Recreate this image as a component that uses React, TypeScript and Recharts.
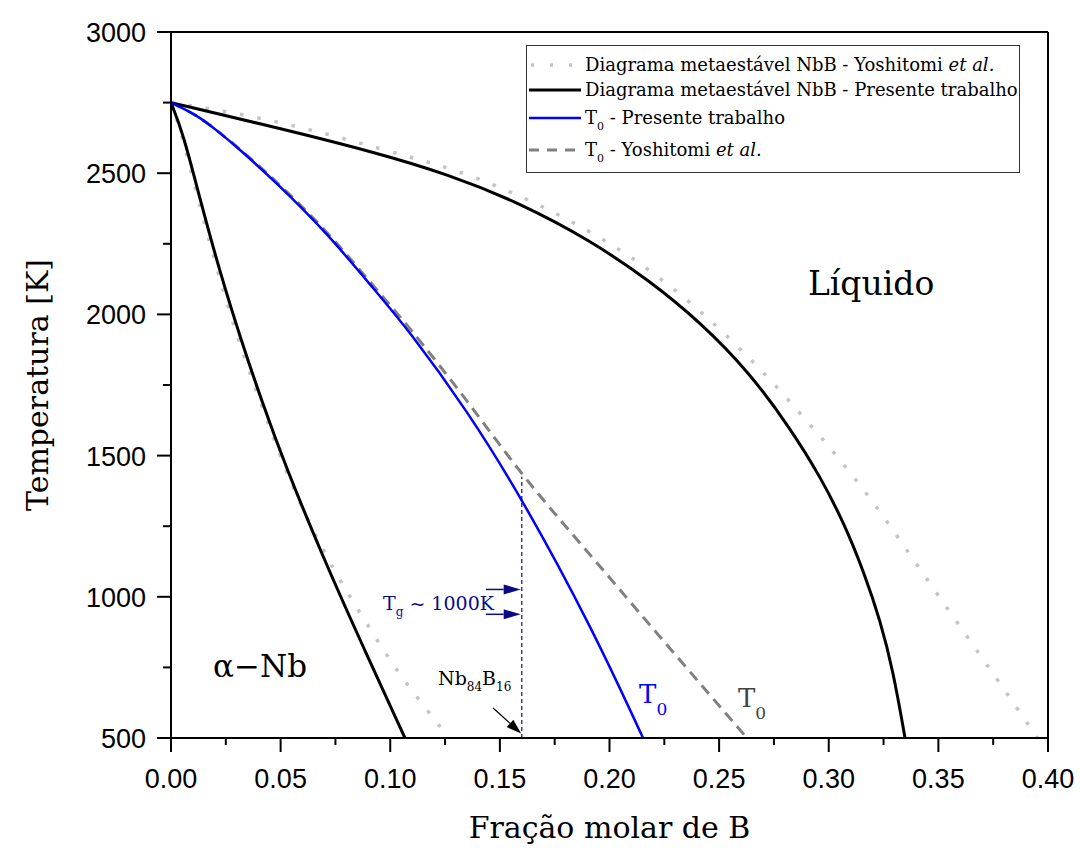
import {
  LineChart,
  Line,
  XAxis,
  YAxis,
  ReferenceLine,
  ReferenceDot,
  Legend,
} from "recharts";

// Diagrama metaestável NbB - Presente trabalho (solidus, lado Nb)
const solidusPresenteX = [0, 0.0055, 0.0132, 0.0223, 0.0315, 0.0415, 0.052, 0.0693, 0.0862, 0.1067];
const solidusPresenteT = [2750, 2642, 2409, 2150, 1920, 1690, 1467, 1141, 847, 500];

// Diagrama metaestável NbB - Yoshitomi et al. (solidus)
const solidusYoshitomiX = [0, 0.0046, 0.0119, 0.021, 0.0303, 0.0406, 0.0515, 0.0625, 0.0743, 0.0839, 0.094, 0.104, 0.1154, 0.1268];
const solidusYoshitomiT = [2750, 2649, 2419, 2157, 1916, 1693, 1460, 1265, 1095, 971, 847, 727, 613, 500];

// liquidus - Presente trabalho
const liquidusPresenteX = [0, 0.0452, 0.0908, 0.1273, 0.1592, 0.1911, 0.2185, 0.2413, 0.2641, 0.2823, 0.296, 0.3074, 0.3165, 0.3234, 0.3293, 0.3348];
const liquidusPresenteT = [2750, 2667, 2579, 2494, 2394, 2263, 2118, 1973, 1792, 1598, 1428, 1254, 1077, 918, 741, 500];

// liquidus - Yoshitomi et al.
const liquidusYoshitomiX = [0, 0.0301, 0.0588, 0.0848, 0.109, 0.1286, 0.1533, 0.1774, 0.2002, 0.2185, 0.2413, 0.2673, 0.2869, 0.3038, 0.3211, 0.3371, 0.353, 0.369, 0.3827, 0.3952];
const liquidusYoshitomiT = [2750, 2713, 2664, 2610, 2557, 2515, 2441, 2352, 2253, 2157, 2016, 1821, 1651, 1499, 1329, 1148, 971, 794, 642, 500];

// T0 - Presente trabalho
const t0PresenteX = [0, 0.0114, 0.021, 0.0301, 0.0483, 0.0712, 0.094, 0.1076, 0.135, 0.1605, 0.192, 0.2153];
const t0PresenteT = [2750, 2708, 2651, 2593, 2465, 2288, 2076, 1952, 1661, 1343, 890, 500];

// T0 - Yoshitomi et al.
const t0YoshitomiX = [0, 0.0114, 0.021, 0.0301, 0.0483, 0.0712, 0.094, 0.1076, 0.135, 0.1605, 0.19, 0.22, 0.2627];
const t0YoshitomiT = [2750, 2708, 2651, 2595, 2470, 2295, 2085, 1965, 1697, 1424, 1160, 885, 500];

const xTicks = [0, 0.025, 0.05, 0.075, 0.1, 0.125, 0.15, 0.175, 0.2, 0.225, 0.25, 0.275, 0.3, 0.325, 0.35, 0.375, 0.4];
const yTicks = [500, 750, 1000, 1250, 1500, 1750, 2000, 2250, 2500, 2750, 3000];

// composição Nb84B16 e Tg
const xNb84B16 = 0.16;
const tTopNb84B16 = 1425;
const tgArrowsT = [1026, 938];

const toPoints = (xs: number[], ts: number[]) => xs.map((x, i) => ({ x, T: ts[i] }));

const SANS = "'Liberation Sans', Arial, sans-serif";
const SERIF = "'DejaVu Serif', serif";
const NAVY = "#0b0b85";

const XTick = ({ x, y, payload }: any) => {
  const v = payload.value;
  const major = Math.abs(v * 20 - Math.round(v * 20)) < 1e-6;
  return (
    <g>
      <line x1={x} x2={x} y1={y} y2={y + (major ? 14 : 7)} stroke="#000" strokeWidth={2} />
      {major && (
        <text x={x} y={y + 50} textAnchor="middle" fontFamily={SANS} fontSize={27} fill="#000">
          {v.toFixed(2)}
        </text>
      )}
    </g>
  );
};

const YTick = ({ x, y, payload }: any) => {
  const v = payload.value;
  const major = v % 500 === 0;
  return (
    <g>
      <line x1={x - (major ? 14 : 8)} x2={x} y1={y} y2={y} stroke="#000" strokeWidth={2} />
      {major && (
        <text x={x - 25} y={y + 10} textAnchor="end" fontFamily={SANS} fontSize={27} fill="#000">
          {v}
        </text>
      )}
    </g>
  );
};

const Arrow = (props: any) => {
  const { x1, y1, x2, y2, stroke, strokeWidth, len = 17, hw = 5 } = props;
  const a = Math.atan2(y2 - y1, x2 - x1);
  const c = Math.cos(a);
  const s = Math.sin(a);
  const bx = x2 - len * c;
  const by = y2 - len * s;
  return (
    <g>
      <line x1={x1} y1={y1} x2={bx} y2={by} stroke={stroke} strokeWidth={strokeWidth} />
      <polygon
        points={`${x2},${y2} ${bx - hw * s},${by + hw * c} ${bx + hw * s},${by - hw * c}`}
        fill={stroke}
      />
    </g>
  );
};

const LegendBox = () => (
  <div style={{ width: 494, height: 128, border: "1px solid #333", boxSizing: "border-box", background: "#fff" }}>
    <svg width={492} height={126} style={{ display: "block" }}>
      <g fontFamily={SERIF} fontSize={18} fill="#000">
        <line x1={4} x2={54} y1={19} y2={19} stroke="#c4c4c4" strokeWidth={3.5} strokeDasharray="3 16" />
        <text x={58} y={25}>
          Diagrama metaestável NbB - Yoshitomi <tspan fontStyle="italic">et al.</tspan>
        </text>
        <line x1={2} x2={54} y1={44} y2={44} stroke="#000" strokeWidth={3} />
        <text x={58} y={50}>Diagrama metaestável NbB - Presente trabalho</text>
        <line x1={2} x2={54} y1={72} y2={72} stroke="#0000ff" strokeWidth={2.5} />
        <text x={58} y={78}>
          T<tspan dy={6} fontSize={11}>0</tspan>
          <tspan dy={-6}> - Presente trabalho</tspan>
        </text>
        <line x1={2} x2={54} y1={104} y2={104} stroke="#808080" strokeWidth={3} strokeDasharray="10 8" />
        <text x={58} y={110}>
          T<tspan dy={6} fontSize={11}>0</tspan>
          <tspan dy={-6}> - Yoshitomi </tspan>
          <tspan fontStyle="italic">et al.</tspan>
        </text>
      </g>
    </svg>
  </div>
);

const TextAt = (content: (cx: number, cy: number) => any) => (p: any) => content(p.cx, p.cy);

export default function App() {
  return (
    <div style={{ position: "absolute", left: 0, top: 0, background: "#fff" }}>
      <LineChart width={1080} height={850} margin={{ top: 32, right: 32, bottom: 0, left: 0 }}>
        <XAxis
          dataKey="x"
          type="number"
          domain={[0, 0.4]}
          ticks={xTicks}
          interval={0}
          allowDataOverflow
          height={112}
          tickSize={0}
          tickMargin={0}
          tickLine={false}
          tick={<XTick />}
          axisLine={{ stroke: "#000", strokeWidth: 2 }}
          label={{
            value: "Fração molar de B",
            position: "insideBottom",
            offset: 12,
            style: { fontFamily: SERIF, fontSize: 30, fill: "#000" },
          }}
        />
        <YAxis
          dataKey="T"
          type="number"
          domain={[500, 3000]}
          ticks={yTicks}
          interval={0}
          allowDataOverflow
          width={171}
          tickSize={0}
          tickMargin={0}
          tickLine={false}
          tick={<YTick />}
          axisLine={{ stroke: "#000", strokeWidth: 2 }}
          label={{
            content: ({ viewBox }: any) => (
              <text
                x={viewBox.x + 48}
                y={viewBox.y + viewBox.height / 2}
                transform={`rotate(-90 ${viewBox.x + 48} ${viewBox.y + viewBox.height / 2})`}
                textAnchor="middle"
                fontFamily={SERIF}
                fontSize={30}
                fill="#000"
              >
                Temperatura [K]
              </text>
            ),
          }}
        />
        <ReferenceLine y={3000} stroke="#000" strokeWidth={2} />
        <ReferenceLine x={0.4} stroke="#000" strokeWidth={2} />

        <Line
          data={toPoints(solidusYoshitomiX, solidusYoshitomiT)}
          dataKey="T"
          type="basis"
          stroke="#c4c4c4"
          strokeWidth={3.5}
          strokeDasharray="3.5 14"
          dot={false}
          activeDot={false}
          isAnimationActive={false}
        />
        <Line
          data={toPoints(liquidusYoshitomiX, liquidusYoshitomiT)}
          dataKey="T"
          type="basis"
          stroke="#c4c4c4"
          strokeWidth={3.5}
          strokeDasharray="3.5 14"
          dot={false}
          activeDot={false}
          isAnimationActive={false}
        />
        <Line
          data={toPoints(t0YoshitomiX, t0YoshitomiT)}
          dataKey="T"
          type="basis"
          stroke="#808080"
          strokeWidth={3}
          strokeDasharray="11 7"
          dot={false}
          activeDot={false}
          isAnimationActive={false}
        />
        <Line
          data={toPoints(solidusPresenteX, solidusPresenteT)}
          dataKey="T"
          type="basis"
          stroke="#000"
          strokeWidth={3}
          dot={false}
          activeDot={false}
          isAnimationActive={false}
        />
        <Line
          data={toPoints(liquidusPresenteX, liquidusPresenteT)}
          dataKey="T"
          type="basis"
          stroke="#000"
          strokeWidth={3}
          dot={false}
          activeDot={false}
          isAnimationActive={false}
        />
        <Line
          data={toPoints(t0PresenteX, t0PresenteT)}
          dataKey="T"
          type="basis"
          stroke="#0000ff"
          strokeWidth={2.5}
          dot={false}
          activeDot={false}
          isAnimationActive={false}
        />

        <ReferenceLine
          segment={[{ x: xNb84B16, y: 500 }, { x: xNb84B16, y: tTopNb84B16 }]}
          stroke={NAVY}
          strokeWidth={1.2}
          strokeDasharray="4 3"
        />
        {tgArrowsT.map((t) => (
          <ReferenceLine
            key={t}
            segment={[{ x: 0.1436, y: t }, { x: xNb84B16 - 0.0005, y: t }]}
            stroke={NAVY}
            strokeWidth={1.5}
            shape={(p: any) => <Arrow {...p} len={17} hw={5} />}
          />
        ))}
        <ReferenceLine
          segment={[{ x: 0.1469, y: 606 }, { x: xNb84B16 - 0.0003, y: 516 }]}
          stroke="#000"
          strokeWidth={1.2}
          shape={(p: any) => <Arrow {...p} len={15} hw={5} />}
        />

        <ReferenceDot
          x={0.0192}
          y={716}
          r={0}
          shape={TextAt((cx, cy) => (
            <text x={cx} y={cy} fontFamily={SERIF} fontSize={31} fill="#000">
              α−Nb
            </text>
          ))}
        />
        <ReferenceDot
          x={0.2905}
          y={2069}
          r={0}
          shape={TextAt((cx, cy) => (
            <text x={cx} y={cy} fontFamily={SERIF} fontSize={33} fill="#000">
              Líquido
            </text>
          ))}
        />
        <ReferenceDot
          x={0.2135}
          y={624}
          r={0}
          shape={TextAt((cx, cy) => (
            <text x={cx} y={cy} fontFamily={SERIF} fontSize={26} fill="#0000ff">
              T<tspan dy={12} fontSize={17}>0</tspan>
            </text>
          ))}
        />
        <ReferenceDot
          x={0.2586}
          y={610}
          r={0}
          shape={TextAt((cx, cy) => (
            <text x={cx} y={cy} fontFamily={SERIF} fontSize={26} fill="#444">
              T<tspan dy={12} fontSize={17}>0</tspan>
            </text>
          ))}
        />
        <ReferenceDot
          x={0.0967}
          y={953}
          r={0}
          shape={TextAt((cx, cy) => (
            <text x={cx} y={cy} fontFamily={SERIF} fontSize={19} fill={NAVY}>
              T<tspan dy={6} fontSize={12}>g</tspan>
              <tspan dy={-6}> ~ 1000K</tspan>
            </text>
          ))}
        />
        <ReferenceDot
          x={0.1218}
          y={688}
          r={0}
          shape={TextAt((cx, cy) => (
            <text x={cx} y={cy} fontFamily={SERIF} fontSize={19} fill="#000">
              Nb<tspan dy={6} fontSize={12}>84</tspan>
              <tspan dy={-6}>B</tspan>
              <tspan dy={6} fontSize={12}>16</tspan>
            </text>
          ))}
        />

        <Legend
          layout="vertical"
          align="center"
          verticalAlign="middle"
          content={() => <LegendBox />}
          wrapperStyle={{ left: 526, top: 45, width: 494, height: 128, right: "auto", bottom: "auto" }}
        />
      </LineChart>
    </div>
  );
}
